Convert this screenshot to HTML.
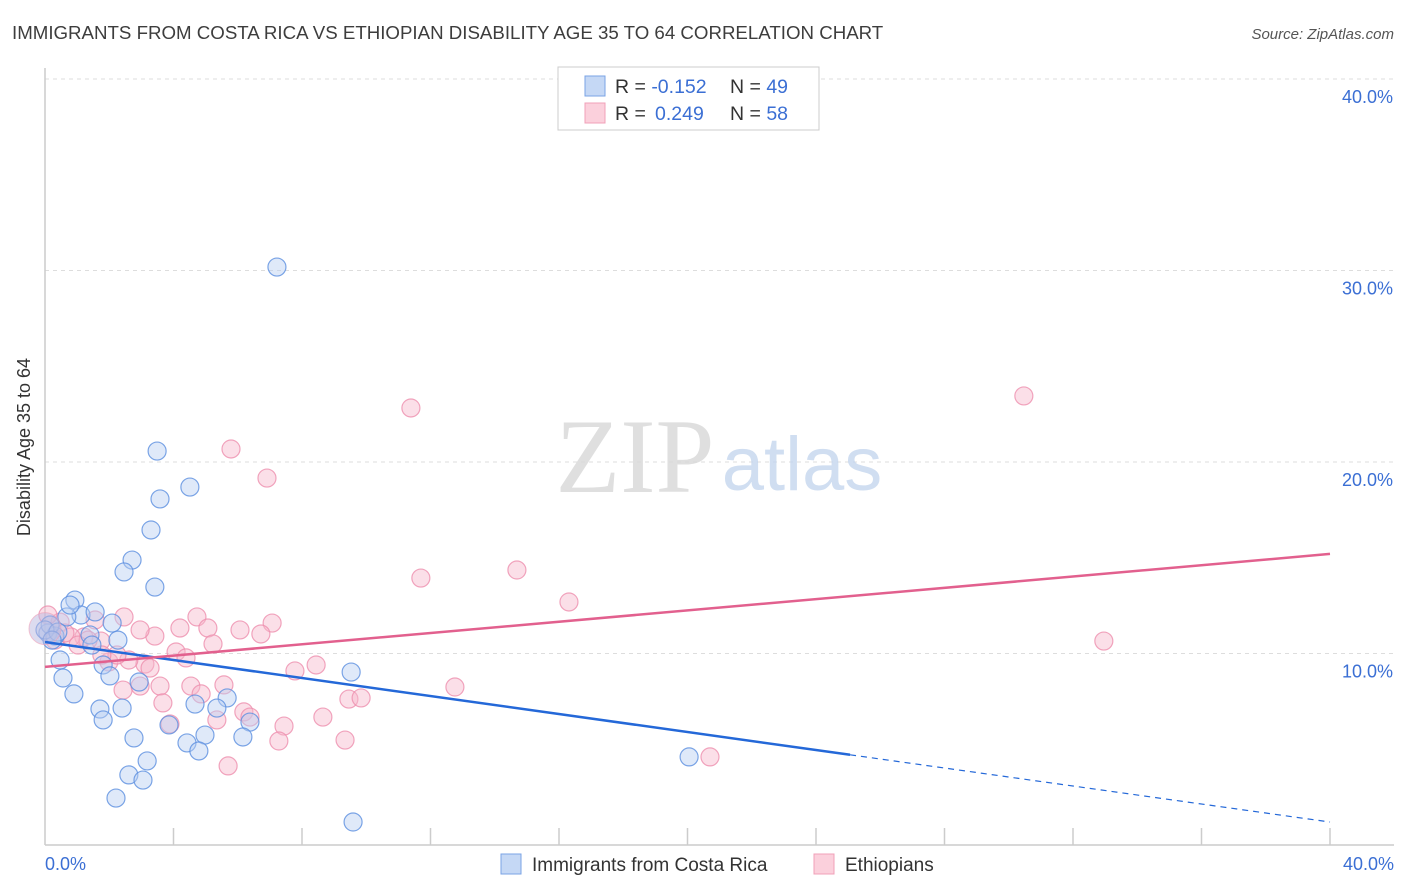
<!DOCTYPE html>
<html><head><meta charset="utf-8"><style>
body{margin:0;background:#fff;font-family:"Liberation Sans",sans-serif;}
svg{display:block}
</style></head><body>
<svg id="chart" width="1406" height="892">
<text x="12" y="39" font-size="18.7" fill="#3d3d3d">IMMIGRANTS FROM COSTA RICA VS ETHIOPIAN DISABILITY AGE 35 TO 64 CORRELATION CHART</text>
<text x="1394" y="39" font-size="15" fill="#555" font-style="italic" text-anchor="end">Source: ZipAtlas.com</text>
<g id="grid"></g>
<line x1="45" y1="68" x2="45" y2="845" stroke="#ccc" stroke-width="1.5"/>
<line x1="45" y1="845" x2="1394" y2="845" stroke="#ccc" stroke-width="1.5"/>
<text x="38" y="455" font-size="18" fill="#333" text-anchor="middle" transform="rotate(-90 30 455)">Disability Age 35 to 64</text>
<text x="45" y="870" font-size="18" fill="#3b6fd4">0.0%</text>
<text x="1394" y="870" font-size="18" fill="#3b6fd4" text-anchor="end">40.0%</text>
<g>
<text x="635" y="492" font-size="106" fill="#d8d8d8" font-family="Liberation Serif,serif" text-anchor="middle" opacity="0.8">ZIP</text>
<text x="802" y="490" font-size="76" fill="#c5d6ee" text-anchor="middle" opacity="0.8">atlas</text>
</g>
<g id="points"></g>
<g id="lines"></g>
<g>
<rect x="558" y="67" width="261" height="63" fill="#fff" stroke="#ccc"/>
<rect x="585" y="76" width="20" height="20" fill="#c5d8f5" stroke="#7aa3e5"/>
<rect x="585" y="103" width="20" height="20" fill="#fbd0dc" stroke="#f0a0b8"/>
<text x="615" y="93" font-size="19.5" fill="#333">R = <tspan fill="#3b6fd4">-0.152</tspan><tspan x="730">N = </tspan><tspan fill="#3b6fd4">49</tspan></text>
<text x="615" y="120" font-size="19.5" fill="#333">R = <tspan fill="#3b6fd4" x="655">0.249</tspan><tspan x="730">N = </tspan><tspan fill="#3b6fd4">58</tspan></text>
</g>
<g>
<rect x="501" y="854" width="20" height="20" fill="#c5d8f5" stroke="#7aa3e5"/>
<text x="532" y="871" font-size="19" fill="#333">Immigrants from Costa Rica</text>
<rect x="814" y="854" width="20" height="20" fill="#fbd0dc" stroke="#f0a0b8"/>
<text x="845" y="871" font-size="19" fill="#333">Ethiopians</text>
</g>
</svg>
<script>
const yTicks=[10,20,30,40];
const xTickCount=10;
const blueX=[7.22,3.49,4.51,3.58,3.30,2.71,2.46,3.42,0.93,1.12,0.68,2.09,1.40,2.27,0.09,0.31,0.47,1.46,1.81,0.56,2.02,0.90,2.93,4.67,5.67,5.35,1.71,2.40,1.81,6.38,3.86,9.53,2.77,4.98,6.16,4.42,4.79,3.18,2.61,3.05,2.21,9.59,20.05,0.16,0,0.40,1.56,0.22,0.78];
const blueY=[30.18,20.57,18.69,18.07,16.45,14.88,14.26,13.47,12.79,12.01,11.91,11.59,10.97,10.70,11.07,10.91,9.66,10.44,9.40,8.72,8.83,7.89,8.51,7.36,7.68,7.15,7.10,7.15,6.53,6.42,6.27,9.03,5.59,5.74,5.64,5.33,4.91,4.39,3.66,3.39,2.45,1.20,4.60,11.49,11.23,11.12,12.17,10.70,12.53];
const pinkX=[30.47,11.39,5.79,6.91,11.70,14.69,16.31,32.96,4.73,2.46,4.20,3.42,5.07,6.07,7.07,6.72,5.23,4.08,4.39,3.11,2.61,1.99,2.24,1.74,1.21,0.47,0.09,0.81,7.78,8.44,12.76,2.43,2.96,3.58,4.54,4.86,5.57,3.67,9.46,9.84,5.35,6.19,6.38,8.65,7.44,7.28,9.34,5.70,20.70,3.89,2.96,1.34,0.31,0.62,1.77,3.27,1.56,1.03];
const pinkY=[23.45,22.82,20.68,19.16,13.94,14.36,12.69,10.65,11.91,11.91,11.33,10.91,11.33,11.23,11.59,11.02,10.50,10.08,9.77,9.45,9.66,9.56,9.92,10.65,10.86,11.64,12.01,10.86,9.09,9.40,8.25,8.09,8.30,8.30,8.30,7.89,8.36,7.42,7.62,7.68,6.53,6.95,6.68,6.68,6.21,5.43,5.48,4.13,4.60,6.32,11.23,10.70,10.70,11.07,9.92,9.24,11.75,10.44];
const blueTrend=[10.6,1.2];
const blueSolidEnd=25.06;
const pinkTrend=[9.3,15.2];
const NS='http://www.w3.org/2000/svg';
const X0=45,X1=1330,Y0=845,Y40=79;
function sx(v){return X0+(X1-X0)*v/40;}
function sy(v){return Y0-(Y0-Y40)*v/40;}
function mk(t,a,p){const e=document.createElementNS(NS,t);for(const k in a)e.setAttribute(k,a[k]);p.appendChild(e);return e;}
const grid=document.getElementById('grid');
yTicks.forEach((t,i)=>{
 const l=mk('line',{x1:45,x2:1394,y1:sy(t),y2:sy(t),stroke:'#ddd','stroke-dasharray':'4,4'},grid);
 
 
 const tx=mk('text',{x:1393,y:sy(t)+24,'font-size':18,fill:'#3b6fd4','text-anchor':'end'},grid);
 tx.textContent=t.toFixed(1)+'%';
 
 
});
for(let i=1;i<=xTickCount;i++){
 const l=mk('line',{x1:sx(i*4),x2:sx(i*4),y1:828,y2:845,stroke:'#ccc','stroke-width':1.5},grid);
 
 
}
const pts=document.getElementById('points');
function draw(xs,ys,fill,stroke,name){
 xs.forEach((x,i)=>{
  const c=mk('circle',{cx:sx(x),cy:sy(ys[i]),r:9,fill:fill,'fill-opacity':0.45,stroke:stroke,'stroke-width':1.2,'stroke-opacity':0.8},pts);
  
  
 });
}
draw(pinkX,pinkY,'#f7b9cc','#ee8fae','point-ethiopians');
draw(blueX,blueY,'#b7cff2','#5b8fe0','point-costa-rica');
const big=mk('circle',{cx:sx(0),cy:sy(11.3),r:16,fill:'#b9b8e0','fill-opacity':0.5,stroke:'#f0a0b8','stroke-opacity':0.6},pts);


const lines=document.getElementById('lines');
function yAt(tr,x){return tr[0]+(tr[1]-tr[0])*x/40;}
const b1=mk('line',{x1:sx(0),y1:sy(blueTrend[0]),x2:sx(blueSolidEnd),y2:sy(yAt(blueTrend,blueSolidEnd)),stroke:'#2468d8','stroke-width':2.5},lines);


const b2=mk('line',{x1:sx(blueSolidEnd),y1:sy(yAt(blueTrend,blueSolidEnd)),x2:sx(40),y2:sy(blueTrend[1]),stroke:'#2468d8','stroke-width':1.2,'stroke-dasharray':'6,5'},lines);


const p1=mk('line',{x1:sx(0),y1:sy(pinkTrend[0]),x2:sx(40),y2:sy(pinkTrend[1]),stroke:'#e2608e','stroke-width':2.5},lines);


</script>
</body></html>
